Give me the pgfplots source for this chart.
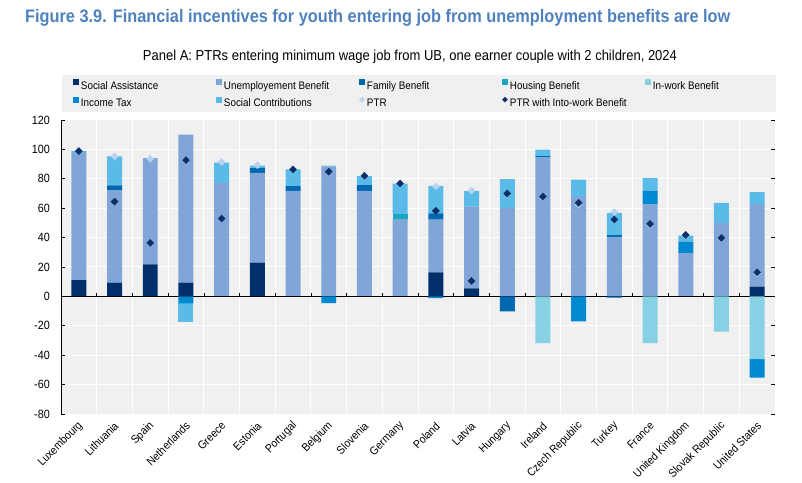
\documentclass[border=0pt]{standalone}
\usepackage{pgfplots}
\pgfplotsset{compat=1.18}
\usepackage{pgfplotstable}
\usepackage{fontspec}
\setmainfont{Liberation Sans}[FakeStretch=0.9]

\definecolor{cSA}{HTML}{002F6C}
\definecolor{cUB}{HTML}{7FA6D7}
\definecolor{cFB}{HTML}{0068B1}
\definecolor{cHB}{HTML}{16A8C0}
\definecolor{cIWB}{HTML}{86D2E4}
\definecolor{cIT}{HTML}{0088D1}
\definecolor{cSC}{HTML}{5BBBE8}
\definecolor{cPTR}{HTML}{B8D3F0}
\definecolor{cIW}{HTML}{0D2F6A}
\definecolor{bgc}{HTML}{F0F0F0}
\definecolor{titlec}{HTML}{4F81BD}

\pgfplotstableread{
x SA UB FB HB IWB IT SC
0 11 86.4 0 0 0 0 1.4
1 9.3 63 3.2 0 0 0 19.7
2 21.8 72.2 0 0 0 0 0
3 9.3 100.7 0 0 0 0 0
4 0 77.3 0 0 0 0 13.7
5 23 61 3.3 0 0 0 1.6
6 0 71.8 3.2 0 0 0 11.4
7 0 88.5 0 0 0 0 0.5
8 0 71.8 3.9 0 0 0 6.1
9 0 52.5 0 3.4 0 0 20.9
10 16.4 35.9 4.1 0 0 0 18.8
11 5.5 55.5 0 0 0 0 10.6
12 0 60 0 0 0 0 19.8
13 0 94.8 0.6 0 0 0 4.4
14 0 68.2 0 0 0 0 11.3
15 0 40.5 1.1 0 0 0 15.2
16 0 62.7 0 0 0 9.3 8.5
17 0 29.5 0 0 0 7.8 4.1
18 0 50 0 0 0 0 13.6
19 6.6 56.1 0 0 0 0 8.2
}\postab

\pgfplotstableread{
x FB IWB IT SC
0 0 0 0 0
1 0 0 0 0
2 0 0 0 0
3 0 0 -4.8 -12.7
4 0 0 0 0
5 0 0 0 0
6 0 0 0 0
7 0 0 -4.5 0
8 0 0 0 0
9 0 0 0 0
10 0 0 -1.1 0
11 0 0 0 0
12 -10.2 0 0 0
13 0 -31.8 0 0
14 0 0 -17 0
15 -0.8 0 0 0
16 0 -31.8 0 0
17 0 0 0 0
18 0 -24 0 0
19 0 -42.7 -12.5 0
}\negtab

\pgfplotstableread{
x PTR IW
0 98.8 98.8
1 95.2 64.5
2 93.6 36.4
3 92.5 92.7
4 91.4 53
5 89.3 nan
6 86.4 86.4
7 84.5 84.8
8 81.8 82
9 76.8 76.8
10 74.8 58.2
11 72 10.5
12 69.6 70
13 68 68
14 62.5 63.6
15 57.3 52.3
16 48.7 49.3
17 41.4 41.8
18 39.6 39.8
19 15.7 16.4
}\pttab

\pgfplotsset{
  base/.style={scale only axis, width=714bp, height=294bp,
    xmin=-0.5, xmax=19.5, ymin=-80, ymax=120, at={(0bp,0bp)}, anchor=south west},
  sqlegend/.style={legend image code/.code={\fill[##1] (0bp,0.5bp) rectangle (6bp,6.5bp);}},
  dmlegend/.style={legend image code/.code={\draw[##1,mark repeat=2,mark phase=2] plot coordinates {(0bp,3.5bp) (3bp,3.5bp) (6bp,3.5bp)};}},
}

\begin{document}
\begin{tikzpicture}
\useasboundingbox (-61bp,-69bp) rectangle (741bp,414bp);
\node[anchor=base west, font=\fontsize{18.2}{21}\selectfont\bfseries, text=titlec, inner sep=0pt] at (-36bp,391bp)
  {Figure 3.9. Financial incentives for youth entering job from unemployment benefits are low};
\node[anchor=base, font=\fontsize{14.5}{18}\selectfont, inner sep=0pt] at (349bp,353bp)
  {Panel A: PTRs entering minimum wage job from UB, one earner couple with 2 children, 2024};
\fill[bgc] (1bp,302bp) rectangle (715bp,339bp);

\begin{axis}[base,
  axis background/.style={fill=bgc},
  axis line style={draw=none},
  ybar stacked, bar width=0.42,
  ytick={-80,-60,-40,-20,0,20,40,60,80,100,120},
  yticklabels={-80,-60,-40,-20,0,20,40,60,80,100,120},
  xtick={0,...,19},
  xticklabels={Luxembourg,Lithuania,Spain,Netherlands,Greece,Estonia,Portugal,Belgium,Slovenia,Germany,Poland,Latvia,Hungary,Ireland,Czech Republic,Turkey,France,United Kingdom,Slovak Republic,United States},
  minor xtick={0.5,1.5,...,18.5},
  ymajorgrids, xminorgrids,
  major grid style={white, line width=1bp},
  minor grid style={white, line width=1bp},
  tick align=inside,
  ytick style={black, line width=0.6bp},
  xtick style={draw=none},
  major tick length=4bp, minor tick length=0pt,
  yticklabel style={anchor=east, inner sep=0pt, xshift=-11bp, font=\fontsize{12}{14}\selectfont},
  xticklabel style={xshift=2bp, yshift=-10bp, rotate=45, anchor=east, inner sep=0pt, font=\fontsize{11.5}{14}\selectfont},
  legend columns=5,
  legend style={at={(0.0168,1.1398)}, anchor=north west, draw=none, fill=none, inner sep=0pt, outer sep=0pt,
    column sep=2bp, row sep=6bp, font=\fontsize{11}{13}\selectfont, nodes={inner sep=0pt}},
]
\addplot[fill=cSA, draw=none, sqlegend] table[x=x,y=SA] {\postab};
\addlegendentry{\makebox[133bp][l]{\strut Social Assistance}}
\addplot[fill=cUB, draw=none, sqlegend] table[x=x,y=UB] {\postab};
\addlegendentry{\makebox[133bp][l]{\strut Unemployement Benefit}}
\addplot[fill=cFB, draw=none, sqlegend] table[x=x,y=FB] {\postab};
\addlegendentry{\makebox[133bp][l]{\strut Family Benefit}}
\addplot[fill=cHB, draw=none, sqlegend] table[x=x,y=HB] {\postab};
\addlegendentry{\makebox[133bp][l]{\strut Housing Benefit}}
\addplot[fill=cIWB, draw=none, sqlegend] table[x=x,y=IWB] {\postab};
\addlegendentry{\makebox[133bp][l]{\strut In-work Benefit}}
\addplot[fill=cIT, draw=none, sqlegend] table[x=x,y=IT] {\postab};
\addlegendentry{\makebox[133bp][l]{\strut Income Tax}}
\addplot[fill=cSC, draw=none, sqlegend] table[x=x,y=SC] {\postab};
\addlegendentry{\makebox[133bp][l]{\strut Social Contributions}}
\addlegendimage{only marks, mark=square*, mark size=1.8bp, mark options={rotate=45, fill=cPTR, draw=cPTR}, dmlegend}
\addlegendentry{\makebox[133bp][l]{\strut PTR}}
\addlegendimage{only marks, mark=square*, mark size=1.8bp, mark options={rotate=45, fill=cIW, draw=cIW}, dmlegend}
\addlegendentry{\makebox[133bp][l]{\strut PTR with Into-work Benefit}}
\end{axis}

\begin{axis}[base, hide axis, ybar stacked, bar width=0.42]
\addplot[fill=cFB, draw=none] table[x=x,y=FB] {\negtab};
\addplot[fill=cIWB, draw=none] table[x=x,y=IWB] {\negtab};
\addplot[fill=cIT, draw=none] table[x=x,y=IT] {\negtab};
\addplot[fill=cSC, draw=none] table[x=x,y=SC] {\negtab};
\draw[black, line width=0.8bp] (axis cs:-0.5,0) -- (axis cs:19.5,0);
\draw[black, line width=0.8bp] (axis cs:-0.5,-80) -- (axis cs:-0.5,120);
\pgfplotsinvokeforeach{0.5,1.5,...,18.5}{\draw[black, line width=0.6bp] (axis cs:#1,0) -- ([yshift=3bp]axis cs:#1,0);}
\end{axis}

\begin{axis}[base, hide axis]
\addplot[only marks, mark=square*, mark size=2.5bp, mark options={rotate=45, fill=cPTR, draw=cPTR}] table[x=x,y=PTR] {\pttab};
\addplot[only marks, mark=square*, mark size=2.5bp, mark options={rotate=45, fill=cIW, draw=cIW}] table[x=x,y=IW] {\pttab};
\end{axis}
\end{tikzpicture}
\end{document}
